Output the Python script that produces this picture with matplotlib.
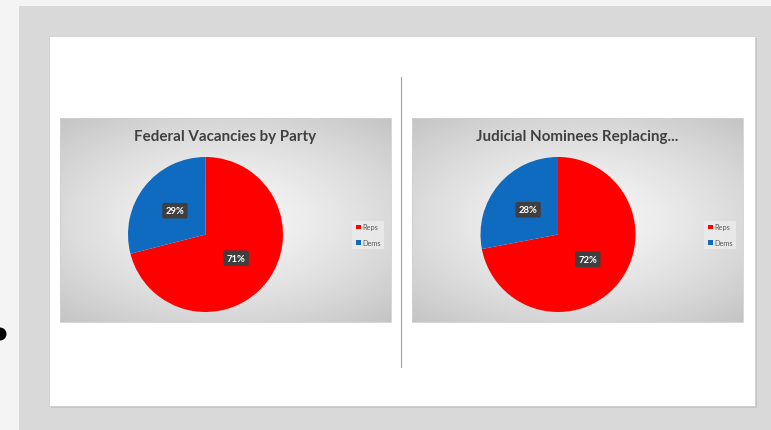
import numpy as np
import matplotlib
matplotlib.use("Agg")
import matplotlib.pyplot as plt
from matplotlib.patches import Rectangle, Circle

# ---- data ----
titles = ["Federal Vacancies by Party", "Judicial Nominees Replacing..."]
categories = ["Reps", "Dems"]
left_values = [71, 29]
right_values = [72, 28]
colors = ["#ff0000", "#0f6bc0"]

W, H = 771, 431
fig = plt.figure(figsize=(W / 100, H / 100), dpi=100)
fig.patch.set_facecolor("#f4f4f4")

bg = fig.add_axes([0, 0, 1, 1])
bg.set_xlim(0, W)
bg.set_ylim(H, 0)
bg.axis("off")

# page backgrounds
bg.add_patch(Rectangle((19, 7), W - 19, H - 7, facecolor="#d9d9d9", edgecolor="none", zorder=0))
bg.add_patch(Rectangle((51, 39), 706, 370, facecolor="#c4c4c4", edgecolor="none", zorder=0.5))
bg.add_patch(Rectangle((49, 37), 706, 370, facecolor="white", edgecolor="#cfcfcf", lw=0.6, zorder=1))
bg.add_patch(Circle((0, 335), 6.5, facecolor="black", edgecolor="none", zorder=1))
bg.plot([401, 401], [78, 368], color="#a0a0a0", lw=0.8, zorder=2)

# panels
panels = [(60, 119, 391, 323), (412, 119, 743, 323)]
pie_centers = [(205.5, 235.5), (558, 235.5)]
radius = 77.5
values_list = [left_values, right_values]
legend_x = [352, 704]

for (x0, y0, x1, y1), (cx, cy), vals, title, lx in zip(panels, pie_centers, values_list, titles, legend_x):
    w, h = x1 - x0, y1 - y0
    yy, xx = np.mgrid[0:200, 0:320]
    gx = (xx / 319.0 - 0.5)
    gy = (yy / 199.0 - 0.5)
    d = np.sqrt(gx ** 2 + (gy * 1.1) ** 2)
    d = np.clip(d / 0.75, 0, 1)
    img = 0.965 - 0.2 * d ** 1.4
    bg.imshow(img, cmap="gray", vmin=0, vmax=1, extent=(x0, x1, y1, y0),
              aspect="auto", zorder=2, interpolation="bilinear")
    bg.add_patch(Rectangle((x0, y0), w, h, facecolor="none", edgecolor="#d0d0d0", lw=0.6, zorder=2.5))
    bg.text((x0 + x1) / 2, 137.5, title, ha="center", va="center", fontsize=10.9,
            fontweight="bold", family="Lato", color="#404040", zorder=3)

    # legend
    bg.add_patch(Rectangle((lx, 222), 32, 28, facecolor="#ececec", edgecolor="none", alpha=0.8, zorder=3))
    for i, (cat, col) in enumerate(zip(categories, colors)):
        yv = 228 + i * 15.5
        bg.add_patch(Rectangle((lx + 4, yv - 2.3), 4.6, 4.6, facecolor=col, edgecolor="none", zorder=4))
        bg.text(lx + 10.5, yv, cat, ha="left", va="center", fontsize=5.3,
                family="Lato", color="#595959", zorder=4)

    # pie
    pax = fig.add_axes([(cx - radius) / W, 1 - (cy + radius) / H, 2 * radius / W, 2 * radius / H])
    pax.set_xlim(-1, 1)
    pax.set_ylim(-1, 1)
    pax.axis("off")
    wedges, texts, autotexts = pax.pie(
        vals, colors=colors, startangle=90, counterclock=False, radius=1.0,
        autopct=lambda p: f"{p:.0f}%", pctdistance=0.5,
        wedgeprops=dict(edgecolor="none"),
        textprops=dict(color="white", fontsize=6.8, fontweight="bold", family="Lato"))
    for t in autotexts:
        t.set_bbox(dict(boxstyle="round,pad=0.35,rounding_size=0.2", facecolor="#3f3f3f", edgecolor="none"))
    pax.set_xlim(-1, 1)
    pax.set_ylim(-1, 1)

fig.savefig("out.png", dpi=100, facecolor=fig.get_facecolor())
